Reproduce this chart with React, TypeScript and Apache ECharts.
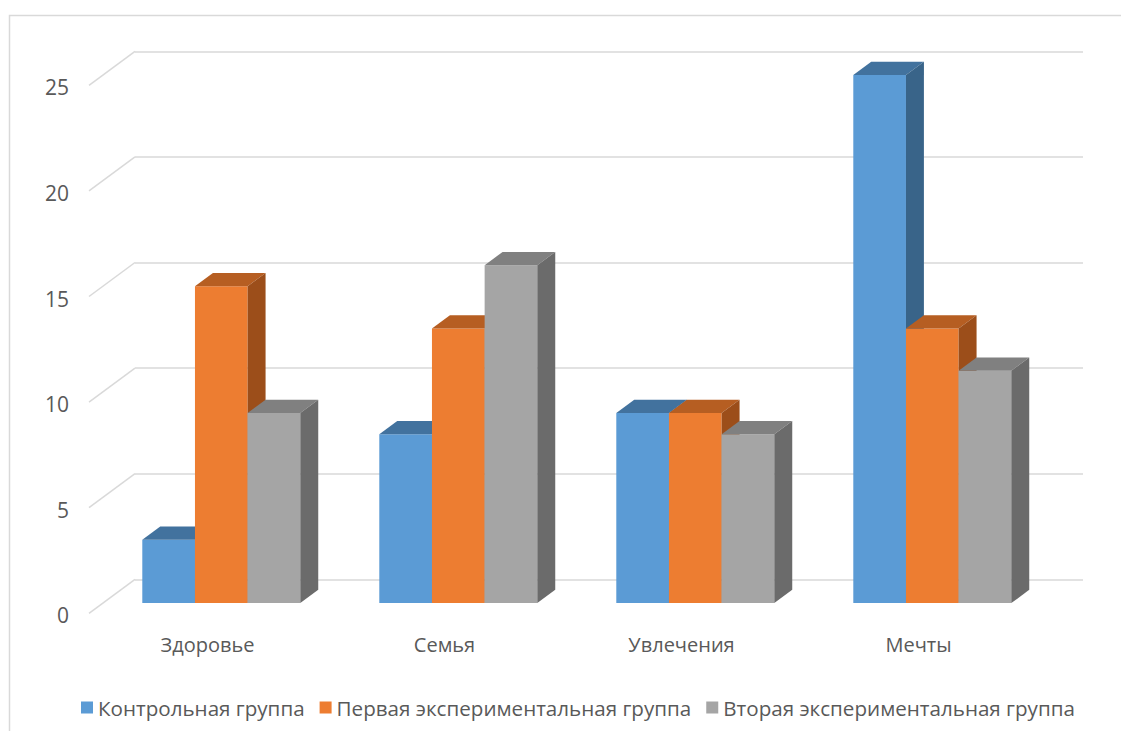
import React, { useEffect, useRef } from "react";
import * as echarts from "echarts";

// Categories and values of the three groups
const categories = ["Здоровье", "Семья", "Увлечения", "Мечты"];
const seriesNames = [
  "Контрольная группа",
  "Первая экспериментальная группа",
  "Вторая экспериментальная группа",
];
const controlValues = [3, 8, 9, 25];
const firstExpValues = [15, 13, 9, 13];
const secondExpValues = [9, 16, 8, 11];
const yTicks = [0, 5, 10, 15, 20, 25];

// Face colours per series: front, top, side
const palette = [
  { front: "#5B9BD5", top: "#42729E", side: "#396489" },
  { front: "#ED7D31", top: "#B65E22", side: "#9C4E1A" },
  { front: "#A5A5A5", top: "#808080", side: "#6B6B6B" },
];

// Oblique projection of the floor depth (pixels) and bar placement in depth
const DEPTH_X = -46;
const DEPTH_Y = 34;
const BAR_FRONT = 0.7;
const BAR_BACK = 0.31;
const GRID_COLOR = "#D9D9D9";
const TEXT_COLOR = "#595959";
const FONT = "'Open Sans', 'Noto Sans', sans-serif";

function barRenderer(seriesIndex: number) {
  return (params: any, api: any) => {
    const i = api.value(0);
    const v = api.value(1);
    const [cx, yTop] = api.coord([i, v]);
    const [, y0] = api.coord([i, 0]);
    const cw = api.size([1, 0])[0];
    const w = cw / 4.5;
    const fx = DEPTH_X * BAR_FRONT;
    const fy = DEPTH_Y * BAR_FRONT;
    const dx = DEPTH_X * (BAR_BACK - BAR_FRONT);
    const dy = DEPTH_Y * (BAR_BACK - BAR_FRONT);
    const left = cx - 1.5 * w + seriesIndex * w + fx;
    const right = left + w;
    const top = yTop + fy;
    const bottom = y0 + fy;
    const c = palette[seriesIndex];
    return {
      type: "group",
      children: [
        {
          type: "rect",
          shape: { x: left, y: top, width: w, height: bottom - top },
          style: { fill: c.front },
        },
        {
          type: "polygon",
          shape: {
            points: [
              [left, top],
              [right, top],
              [right + dx, top + dy],
              [left + dx, top + dy],
            ],
          },
          style: { fill: c.top },
        },
        {
          type: "polygon",
          shape: {
            points: [
              [right, top],
              [right + dx, top + dy],
              [right + dx, bottom + dy],
              [right, bottom],
            ],
          },
          style: { fill: c.side },
        },
      ],
    };
  };
}

export default function App() {
  const ref = useRef<HTMLDivElement>(null);

  useEffect(() => {
    if (!ref.current) return;
    const chart = echarts.init(ref.current, undefined, { renderer: "svg" });
    const allValues = [controlValues, firstExpValues, secondExpValues];

    const barSeries = allValues.map((vals, s) => ({
      type: "custom",
      name: seriesNames[s],
      color: palette[s].front,
      renderItem: barRenderer(s),
      data: vals.map((v, i) => [i, v]),
      encode: { x: 0, y: 1 },
      z: 3 + s,
    }));

    chart.setOption({
      animation: false,
      backgroundColor: "#FFFFFF",
      textStyle: { fontFamily: FONT },
      graphic: [
        {
          type: "rect",
          shape: { x: 9.5, y: 15.5, width: 1300, height: 900 },
          style: { fill: "none", stroke: GRID_COLOR, lineWidth: 1.5 },
          silent: true,
        },
      ],
      grid: { left: 135, right: 38, top: 51.3, bottom: 151.7 },
      xAxis: {
        type: "category",
        data: categories,
        axisLine: { show: false },
        axisTick: { show: false },
        splitLine: { show: false },
        axisLabel: {
          margin: 55,
          color: TEXT_COLOR,
          fontSize: 20,
          fontFamily: FONT,
          padding: [0, 92, 0, 0],
        },
      },
      yAxis: {
        type: "value",
        min: 0,
        max: 25,
        interval: 5,
        axisLine: { show: false },
        axisTick: { show: false },
        splitLine: { lineStyle: { color: GRID_COLOR, width: 1.5 } },
        axisLabel: { show: false },
      },
      legend: {
        data: seriesNames,
        left: 76,
        top: 692,
        icon: "rect",
        itemWidth: 12,
        itemHeight: 12,
        itemGap: 15,
        textStyle: { color: TEXT_COLOR, fontSize: 20.6, fontFamily: FONT },
      },
      series: [
        {
          // floor edges of the gridlines and the value labels in front of them
          type: "custom",
          name: "floor",
          silent: true,
          z: 1,
          data: yTicks.map((t) => [0, t]),
          encode: { x: 0, y: 1 },
          renderItem: (params: any, api: any) => {
            const t = api.value(1);
            const y = api.coord([0, t])[1];
            const x = params.coordSys.x;
            return {
              type: "group",
              children: [
                {
                  type: "line",
                  shape: { x1: x, y1: y, x2: x + DEPTH_X, y2: y + DEPTH_Y },
                  style: { stroke: GRID_COLOR, lineWidth: 1.5 },
                },
                {
                  type: "text",
                  style: {
                    text: String(t),
                    x: x + DEPTH_X - 20,
                    y: y + DEPTH_Y + 2,
                    align: "right",
                    verticalAlign: "middle",
                    fill: TEXT_COLOR,
                    fontSize: 21,
                    fontFamily: FONT,
                  },
                },
              ],
            };
          },
        },
        ...barSeries,
      ],
    });

    return () => chart.dispose();
  }, []);

  return (
    <div
      ref={ref}
      style={{ position: "absolute", left: 0, top: 0, width: 1121, height: 731 }}
    />
  );
}
